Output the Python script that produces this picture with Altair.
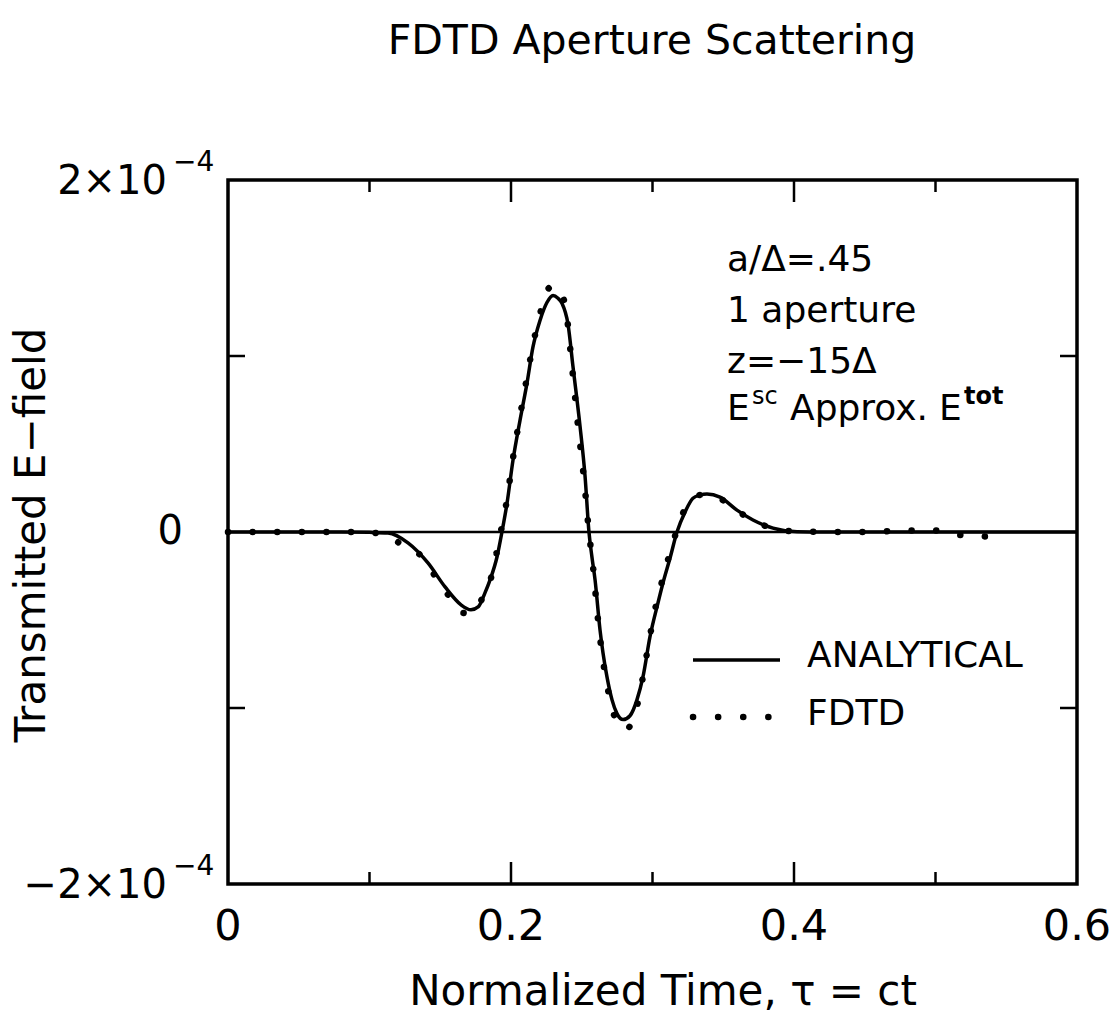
import altair as alt
import pandas as pd

# ---------------- data (time in units of normalized time, field in units of 1e-4) -------------
t_analytical = [0, 0.08, 0.1, 0.1131, 0.1272, 0.1413, 0.1534, 0.1647, 0.1717, 0.1770,
                0.1816, 0.1852, 0.1901, 0.1936, 0.1972, 0.2014, 0.2064, 0.2113, 0.2155, 0.2205,
                0.2254, 0.2297, 0.2332, 0.2360, 0.2403, 0.2438, 0.2488, 0.2523, 0.2551, 0.2572,
                0.2594, 0.2629, 0.2650, 0.2678, 0.2714, 0.2749, 0.2792, 0.2841, 0.2890, 0.2933,
                0.2982, 0.3039, 0.3074, 0.3124, 0.3173, 0.3230, 0.3286, 0.3336, 0.3385, 0.3477,
                0.3597, 0.3710, 0.3852, 0.4021, 0.42, 0.6]
e_analytical = [0, 0, -0.002, -0.006, -0.062, -0.176, -0.312, -0.414, -0.442, -0.424,
                -0.346, -0.272, -0.142, 0, 0.164, 0.408, 0.636, 0.846, 1.05, 1.202,
                1.304, 1.344, 1.328, 1.30, 1.18, 0.94, 0.60, 0.32, 0, -0.142,
                -0.272, -0.556, -0.686, -0.822, -0.954, -1.032, -1.066, -1.044, -0.954, -0.822,
                -0.596, -0.402, -0.29, -0.148, 0, 0.114, 0.192, 0.21, 0.216, 0.198,
                0.124, 0.068, 0.022, 0.002, 0, 0]

t_fdtd = [0, 0.09, 0.105, 0.1216, 0.1357, 0.1463, 0.1562, 0.1668, 0.1731, 0.1795,
          0.1866, 0.1922, 0.1965, 0.2014, 0.2064, 0.2113, 0.2162, 0.2212, 0.2261, 0.2304,
          0.2346, 0.2389, 0.2431, 0.2474, 0.2516, 0.2551, 0.2580, 0.2615, 0.2650, 0.2686,
          0.2728, 0.2770, 0.2820, 0.2862, 0.2905, 0.2954, 0.3018, 0.3081, 0.3145, 0.3201,
          0.3272, 0.3364, 0.3456, 0.3569, 0.3710, 0.3852, 0.40, 0.45, 0.48, 0.50,
          0.51, 0.533, 0.549]
e_fdtd = [0, 0, -0.006, -0.064, -0.13, -0.25, -0.364, -0.46, -0.456, -0.38,
          -0.24, -0.02, 0.154, 0.42, 0.66, 0.88, 1.09, 1.26, 1.38, 1.40,
          1.37, 1.26, 0.94, 0.60, 0.30, 0.0, -0.20, -0.50, -0.73, -0.90,
          -1.04, -1.11, -1.12, -1.06, -0.94, -0.72, -0.44, -0.24, -0.06, 0.08,
          0.18, 0.214, 0.20, 0.136, 0.066, 0.020, 0.004, 0.0, 0.008, 0.008,
          -0.012, -0.024, -0.034]

UNIT = 1e-4
x_tick_minor = [0.1, 0.3, 0.5]
x_tick_major = [0.2, 0.4]
y_ticks = [1e-4, -1e-4]
x_label_vals = [0, 0.2, 0.4, 0.6]
x_label_text = ["0", "0.2", "0.4", "0.6"]
y_label_vals = [2e-4, -2e-4]
y_label_text = ["2×10", "−2×10"]
y_label_exp = ["−4", "−4"]

TITLE = "FDTD Aperture Scattering"
X_TITLE = "Normalized Time,  τ  =  ct"
Y_TITLE = "Transmitted E−field"

# ---------------- layout ----------------
FONT = "DejaVu Sans"
W, H = 849, 704
PAD = {"left": 228, "top": 180, "right": 39, "bottom": 148}

xs = alt.Scale(domain=[0, 0.6], nice=False, zero=False)
ys = alt.Scale(domain=[-2e-4, 2e-4], nice=False, zero=False)

df_a = pd.DataFrame({"t": t_analytical, "e": [v * UNIT for v in e_analytical]})
df_f = pd.DataFrame({"t": t_fdtd, "e": [v * UNIT for v in e_fdtd]})


def X(f):
    return alt.X(f, scale=xs, axis=None)


def Y(f):
    return alt.Y(f, scale=ys, axis=None)


def txt(s, x, y, size, align="left", baseline="alphabetic", angle=0, weight="normal"):
    return alt.Chart(pd.DataFrame({"s": [s]})).mark_text(
        align=align, baseline=baseline, fontSize=size, font=FONT, angle=angle,
        fontWeight=weight, color="black"
    ).encode(text="s:N", x=alt.value(x), y=alt.value(y))


zero_line = alt.Chart(pd.DataFrame({"v": [0.0]})).mark_rule(
    color="black", strokeWidth=2.5).encode(y=Y("v:Q"))

analytical = alt.Chart(df_a).mark_line(
    color="black", strokeWidth=3.5, interpolate="monotone"
).encode(x=X("t:Q"), y=Y("e:Q"), order="t:Q")

fdtd = alt.Chart(df_f).mark_line(
    color="black", strokeWidth=6.5, strokeDash=[0.1, 24.5], strokeCap="round",
    interpolate="monotone"
).encode(x=X("t:Q"), y=Y("e:Q"), order="t:Q")

df_minor = pd.DataFrame({"t": x_tick_minor})
df_major = pd.DataFrame({"t": x_tick_major})
df_yt = pd.DataFrame({"v": y_ticks})
TK = dict(color="black", strokeWidth=2.5)
ticks = [
    alt.Chart(df_minor).mark_rule(**TK).encode(x=X("t:Q"), y=alt.value(H), y2=alt.value(H - 12)),
    alt.Chart(df_minor).mark_rule(**TK).encode(x=X("t:Q"), y=alt.value(0), y2=alt.value(12)),
    alt.Chart(df_major).mark_rule(**TK).encode(x=X("t:Q"), y=alt.value(H), y2=alt.value(H - 22)),
    alt.Chart(df_major).mark_rule(**TK).encode(x=X("t:Q"), y=alt.value(0), y2=alt.value(22)),
    alt.Chart(df_yt).mark_rule(**TK).encode(y=Y("v:Q"), x=alt.value(0), x2=alt.value(17)),
    alt.Chart(df_yt).mark_rule(**TK).encode(y=Y("v:Q"), x=alt.value(W), x2=alt.value(W - 17)),
]

x_labels = alt.Chart(pd.DataFrame({"t": x_label_vals, "s": x_label_text})).mark_text(
    align="center", baseline="alphabetic", fontSize=43, font=FONT, color="black"
).encode(x=X("t:Q"), y=alt.value(H + 56), text="s:N")

df_yl = pd.DataFrame({"v": y_label_vals, "s": y_label_text, "p": y_label_exp})
y_labels = alt.Chart(df_yl).mark_text(
    align="right", baseline="alphabetic", fontSize=40, font=FONT, color="black", dy=14
).encode(y=Y("v:Q"), x=alt.value(-61), text="s:N")
y_exps = alt.Chart(df_yl).mark_text(
    align="left", baseline="alphabetic", fontSize=28, font=FONT, color="black", dy=-9
).encode(y=Y("v:Q"), x=alt.value(-55), text="p:N")
y_zero = alt.Chart(pd.DataFrame({"v": [0.0], "s": ["0"]})).mark_text(
    align="right", baseline="middle", fontSize=40, font=FONT, color="black"
).encode(y=Y("v:Q"), x=alt.value(-45), text="s:N")

texts = [
    txt(TITLE, 424, -126, 41, align="center"),
    txt(X_TITLE, 435, 825, 42, align="center"),
    txt(Y_TITLE, -196, 355, 42, align="center", baseline="middle", angle=270),
    # annotation block
    txt("a/Δ=.45", 499, 91, 36),
    txt("1  aperture", 499, 142, 36),
    txt("z=−15Δ", 499, 193, 36),
    txt("E", 499, 240, 36),
    txt("sc", 524, 224, 24),
    txt("Approx.", 562, 240, 36),
    txt("E", 711, 240, 36),
    txt("tot", 736, 224, 24, weight="bold"),
    # legend
    txt("ANALYTICAL", 579, 487, 36),
    txt("FDTD", 579, 545, 36),
]

legend_line = alt.Chart(pd.DataFrame({"k": ["ANALYTICAL"]})).mark_rule(
    color="black", strokeWidth=3.5
).encode(x=alt.value(465), x2=alt.value(552), y=alt.value(480))
legend_dots = alt.Chart(pd.DataFrame({"k": ["FDTD"]})).mark_rule(
    color="black", strokeWidth=6.5, strokeDash=[0.1, 25], strokeCap="round"
).encode(x=alt.value(465), x2=alt.value(542), y=alt.value(537))

chart = alt.layer(
    zero_line, analytical, fdtd, *ticks, x_labels, y_labels, y_exps, y_zero,
    legend_line, legend_dots, *texts
).properties(
    width=W, height=H,
    autosize=alt.AutoSizeParams(type="none"),
    padding=PAD,
    background="white",
).configure_view(stroke="black", strokeWidth=3.5)

chart.save("out.html", embed_options={"renderer": "svg", "actions": False})
